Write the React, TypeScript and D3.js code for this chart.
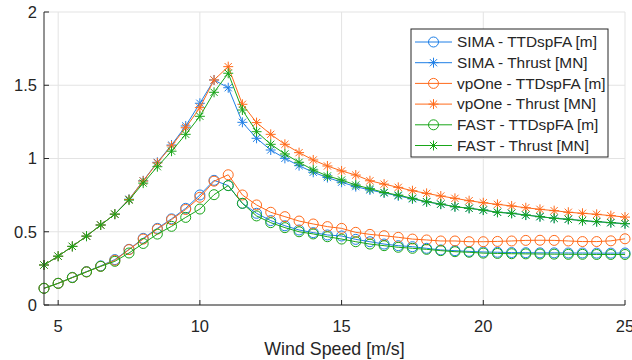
import React from "react";
import * as d3 from "d3";

const windSpeed = d3.range(4.5, 25.01, 0.5).map((v) => +v.toFixed(1));

const simaTTD = [0.114, 0.148, 0.189, 0.228, 0.267, 0.31, 0.38, 0.455, 0.523, 0.588, 0.66, 0.751, 0.851, 0.815, 0.694, 0.626, 0.576, 0.541, 0.512, 0.494, 0.478, 0.471, 0.448, 0.432, 0.416, 0.405, 0.398, 0.387, 0.376, 0.371, 0.366, 0.362, 0.36, 0.358, 0.357, 0.356, 0.356, 0.355, 0.355, 0.354, 0.354, 0.355];
const simaThrust = [0.273, 0.333, 0.4, 0.47, 0.546, 0.62, 0.722, 0.848, 0.974, 1.092, 1.222, 1.377, 1.536, 1.483, 1.247, 1.138, 1.058, 1.001, 0.951, 0.906, 0.87, 0.838, 0.808, 0.785, 0.765, 0.745, 0.724, 0.704, 0.688, 0.671, 0.66, 0.648, 0.633, 0.626, 0.614, 0.603, 0.592, 0.585, 0.576, 0.569, 0.562, 0.555];
const vpOneTTD = [0.114, 0.148, 0.187, 0.226, 0.264, 0.305, 0.378, 0.45, 0.518, 0.583, 0.652, 0.735, 0.845, 0.889, 0.751, 0.683, 0.633, 0.603, 0.573, 0.553, 0.535, 0.523, 0.496, 0.482, 0.473, 0.462, 0.45, 0.444, 0.437, 0.437, 0.432, 0.432, 0.434, 0.437, 0.441, 0.442, 0.441, 0.437, 0.433, 0.433, 0.438, 0.452];
const vpOneThrust = [0.273, 0.333, 0.4, 0.47, 0.546, 0.62, 0.72, 0.846, 0.97, 1.086, 1.21, 1.347, 1.536, 1.627, 1.37, 1.245, 1.165, 1.097, 1.04, 0.99, 0.949, 0.915, 0.887, 0.848, 0.825, 0.803, 0.78, 0.762, 0.744, 0.728, 0.712, 0.698, 0.687, 0.676, 0.664, 0.653, 0.644, 0.633, 0.626, 0.619, 0.61, 0.6];
const fastTTD = [0.114, 0.148, 0.187, 0.226, 0.264, 0.298, 0.355, 0.42, 0.484, 0.537, 0.598, 0.655, 0.753, 0.815, 0.694, 0.608, 0.562, 0.528, 0.5, 0.485, 0.466, 0.45, 0.432, 0.416, 0.405, 0.394, 0.387, 0.38, 0.371, 0.364, 0.36, 0.354, 0.352, 0.35, 0.349, 0.348, 0.347, 0.346, 0.346, 0.345, 0.345, 0.345];
const fastThrust = [0.273, 0.333, 0.4, 0.47, 0.546, 0.62, 0.716, 0.832, 0.944, 1.05, 1.165, 1.288, 1.452, 1.582, 1.331, 1.183, 1.097, 1.031, 0.974, 0.922, 0.881, 0.853, 0.819, 0.794, 0.768, 0.75, 0.728, 0.705, 0.689, 0.671, 0.66, 0.648, 0.633, 0.626, 0.614, 0.603, 0.592, 0.585, 0.576, 0.569, 0.562, 0.555];

const xTicks = [5, 10, 15, 20, 25];
const yTicks = [0, 0.5, 1, 1.5, 2];

const BLUE = "#1f7fe6";
const ORANGE = "#ff6a1a";
const GREEN = "#19a619";

const series = [
  { name: "SIMA - TTDspFA [m]", values: simaTTD, color: BLUE, marker: "o" },
  { name: "SIMA - Thrust [MN]", values: simaThrust, color: BLUE, marker: "*" },
  { name: "vpOne - TTDspFA [m]", values: vpOneTTD, color: ORANGE, marker: "o" },
  { name: "vpOne - Thrust [MN]", values: vpOneThrust, color: ORANGE, marker: "*" },
  { name: "FAST - TTDspFA [m]", values: fastTTD, color: GREEN, marker: "o" },
  { name: "FAST - Thrust [MN]", values: fastThrust, color: GREEN, marker: "*" },
];

const W = 632;
const H = 360;
const L = 44;
const R = 625;
const T = 12;
const B = 305;
const FONT = "'Liberation Sans', Arial, Helvetica, sans-serif";
const TEXT = "#262626";

function Marker({ type, x, y, color }: { type: string; x: number; y: number; color: string }) {
  if (type === "o") {
    return <circle cx={x} cy={y} r={5} fill="none" stroke={color} strokeWidth={1} />;
  }
  const a = 5;
  const d = 3.6;
  return (
    <g stroke={color} strokeWidth={1}>
      <line x1={x - a} y1={y} x2={x + a} y2={y} />
      <line x1={x} y1={y - a} x2={x} y2={y + a} />
      <line x1={x - d} y1={y - d} x2={x + d} y2={y + d} />
      <line x1={x - d} y1={y + d} x2={x + d} y2={y - d} />
    </g>
  );
}

export default function App() {
  const x = d3.scaleLinear().domain([4.5, 25]).range([L, R]);
  const y = d3.scaleLinear().domain([0, 2]).range([B, T]);
  const line = d3
    .line<number>()
    .x((_, i) => x(windSpeed[i]))
    .y((v) => y(v));

  const legX = 411;
  const legY = 29;
  const legW = 197;
  const legH = 128;
  const rowH = 20.7;

  return (
    <svg
      width={W}
      height={H}
      style={{ position: "absolute", left: 0, top: 0, background: "#fff" }}
      fontFamily={FONT}
    >
      <rect x={0} y={0} width={W} height={H} fill="#fff" />
      {/* grid */}
      <g stroke="#e3e3e3" strokeWidth={1}>
        {xTicks.map((t) => (
          <line key={"gx" + t} x1={x(t)} x2={x(t)} y1={T} y2={B} />
        ))}
        {yTicks.map((t) => (
          <line key={"gy" + t} x1={L} x2={R} y1={y(t)} y2={y(t)} />
        ))}
      </g>
      {/* series */}
      {series.map((s) => (
        <g key={s.name}>
          <path d={line(s.values) || ""} fill="none" stroke={s.color} strokeWidth={1} />
          {s.values.map((v, i) => (
            <Marker key={i} type={s.marker} x={x(windSpeed[i])} y={y(v)} color={s.color} />
          ))}
        </g>
      ))}
      {/* axes */}
      <g stroke={TEXT} strokeWidth={1}>
        <line x1={L} x2={L} y1={T} y2={B} />
        <line x1={L} x2={R} y1={B} y2={B} />
        {yTicks.map((t) => (
          <line key={"ty" + t} x1={L} x2={L + 5} y1={y(t)} y2={y(t)} />
        ))}
        {xTicks.map((t) => (
          <line key={"tx" + t} x1={x(t)} x2={x(t)} y1={B} y2={B - 5} />
        ))}
      </g>
      <g fill={TEXT} fontSize={16.5}>
        {yTicks.map((t) => (
          <text key={"ly" + t} x={L - 7} y={y(t)} dy="0.35em" textAnchor="end">
            {String(t)}
          </text>
        ))}
        {xTicks.map((t) => (
          <text key={"lx" + t} x={x(t)} y={B + 21} dy="0.35em" textAnchor="middle">
            {String(t)}
          </text>
        ))}
        <text x={(L + R) / 2} y={355} fontSize={17.8} textAnchor="middle">
          Wind Speed [m/s]
        </text>
      </g>
      {/* legend */}
      <g>
        <rect x={legX} y={legY} width={legW} height={legH} fill="#fff" stroke={TEXT} strokeWidth={1} />
        {series.map((s, i) => {
          const cy = legY + 13 + i * rowH;
          return (
            <g key={"lg" + s.name}>
              <line x1={415} x2={452} y1={cy} y2={cy} stroke={s.color} strokeWidth={1} />
              <Marker type={s.marker} x={433.5} y={cy} color={s.color} />
              <text x={457} y={cy} dy="0.35em" fontSize={15.4} fill={TEXT}>
                {s.name}
              </text>
            </g>
          );
        })}
      </g>
    </svg>
  );
}
